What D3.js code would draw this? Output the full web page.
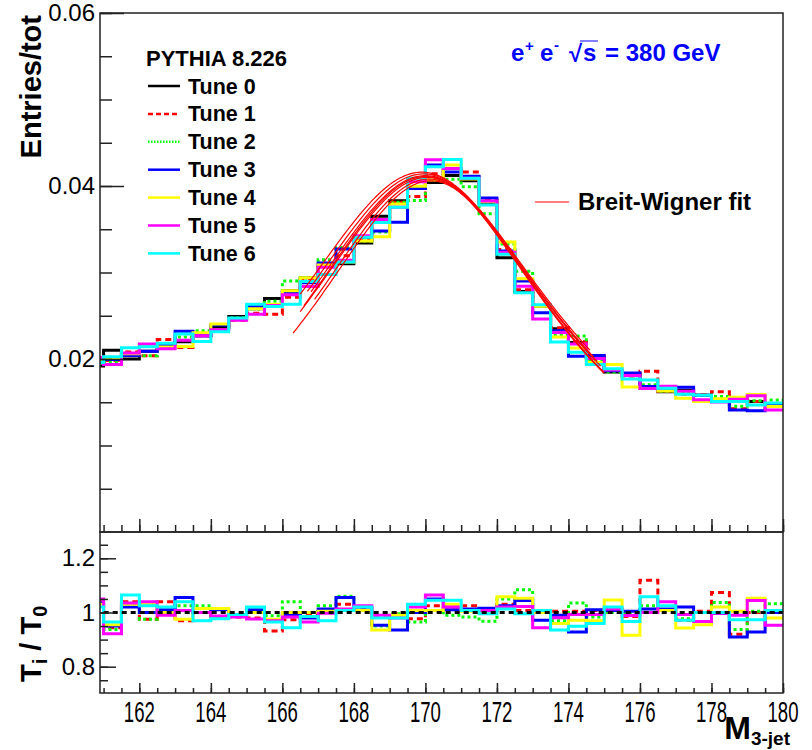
<!DOCTYPE html>
<html>
<head>
<meta charset="utf-8">
<script src="https://cdn.jsdelivr.net/npm/d3@7"></script>
<style>
body { margin: 0; background: #fff; }
svg { display: block; font-family: "Liberation Sans", Arial, sans-serif; }
</style>
</head>
<body>
<svg id="chart" width="812" height="750"></svg>
<script>
// bin edges of the M3-jet histograms (0.5 GeV bins)
let binEdges = [160.5, 161, 161.5, 162, 162.5, 163, 163.5, 164, 164.5, 165, 165.5,
    166, 166.5, 167, 167.5, 168, 168.5, 169, 169.5, 170, 170.5, 171, 171.5, 172,
    172.5, 173, 173.5, 174, 174.5, 175, 175.5, 176, 176.5, 177, 177.5, 178, 178.5,
    179, 179.5, 180];

let tuneNames = ["Tune 0", "Tune 1", "Tune 2", "Tune 3", "Tune 4", "Tune 5", "Tune 6"];

// Tune 0 entries/tot per bin
let tune0 = [0.0192, 0.0210, 0.0200, 0.0209, 0.0214, 0.0220, 0.0227, 0.0237, 0.0249,
    0.0258, 0.0270, 0.0279, 0.0294, 0.0307, 0.0310, 0.0334, 0.0365, 0.0383, 0.0397,
    0.0404, 0.0412, 0.0406, 0.0380, 0.0317, 0.0278, 0.0261, 0.0235, 0.0219, 0.0202,
    0.0185, 0.0183, 0.0166, 0.0162, 0.0164, 0.0158, 0.0151, 0.0155, 0.0151, 0.0148];

// ratios Ti / T0 per bin
let ratio1 = [1.045, 0.944, 1.04, 0.975, 1.04, 0.97, 1.0, 0.985, 0.983, 0.98, 0.932,
    0.973, 0.99, 1.007, 1.03, 1.013, 0.988, 0.995, 0.977, 1.025, 1.02, 1.025, 1.01,
    1.03, 1.007, 1.0, 1.005, 1.005, 1.007, 1.013, 0.985, 1.119, 1.007, 0.971, 1.005,
    1.074, 0.92, 1.0, 1.0];
let ratio2 = [1.03, 0.937, 1.025, 0.975, 1.0, 1.025, 1.025, 0.98, 0.993, 1.0, 0.988,
    1.04, 1.0, 1.025, 1.06, 1.007, 0.95, 0.995, 0.965, 1.007, 0.99, 0.983, 0.968,
    1.05, 1.084, 1.0, 0.97, 1.035, 0.983, 1.0, 1.0, 1.025, 1.007, 0.977, 1.0, 1.037,
    0.937, 1.005, 1.032];
let ratio3 = [1.035, 0.95, 1.02, 1.0, 1.01, 1.055, 1.0, 1.01, 0.99, 1.01, 0.97, 0.99,
    0.98, 1.013, 1.055, 1.02, 0.953, 0.935, 1.0, 1.05, 1.01, 1.013, 1.016, 1.025,
    1.044, 0.971, 0.99, 0.928, 1.01, 1.007, 1.005, 1.013, 1.013, 1.02, 1.0, 0.997,
    0.91, 0.928, 1.0];
let ratio4 = [1.03, 0.955, 1.03, 1.03, 1.0, 0.975, 1.015, 1.015, 0.987, 1.0, 0.975,
    1.0, 1.0, 1.005, 1.007, 1.007, 0.935, 0.99, 1.007, 1.007, 1.03, 1.005, 1.005,
    1.058, 1.053, 1.0, 0.959, 0.971, 0.97, 1.046, 0.916, 1.0, 1.007, 0.943, 0.955,
    1.02, 1.005, 1.053, 0.98];
let ratio5 = [1.05, 0.922, 1.035, 1.04, 0.99, 1.007, 1.0, 0.987, 0.983, 0.976, 0.97,
    0.983, 0.965, 0.997, 1.013, 1.025, 0.99, 0.98, 1.02, 1.065, 1.02, 1.007, 1.007,
    1.02, 1.022, 0.944, 0.981, 0.993, 0.993, 1.013, 0.989, 1.0, 1.04, 0.993, 0.967,
    0.997, 0.99, 1.044, 0.953];
let ratio6 = [1.02, 0.965, 1.065, 1.025, 1.02, 1.04, 0.97, 0.977, 0.993, 1.02, 0.965,
    0.944, 0.985, 0.97, 1.007, 1.02, 0.98, 0.98, 1.03, 1.045, 1.045, 1.007, 0.995,
    1.013, 0.995, 1.007, 0.935, 0.949, 0.959, 1.02, 0.967, 1.058, 1.025, 0.971, 1.0,
    1.0, 0.973, 0.973, 1.007];
let ratios = [ratio1, ratio2, ratio3, ratio4, ratio5, ratio6];

// Breit-Wigner fit parameters, one fit per tune
let fitMean = [170.05, 169.95, 170.15, 170.0, 169.9, 170.1, 170.0];
let fitGamma = [9.1, 9.3, 8.8, 9.2, 9.5, 8.9, 9.0];
let fitPeak = [0.0410, 0.0414, 0.0406, 0.0412, 0.0416, 0.0408, 0.0411];
let fitLow = [166.5, 166.7, 166.3, 166.8, 166.5, 166.9, 166.6];
let fitHigh = [174.9, 174.7, 175.0, 174.8, 174.6, 175.0, 174.8];

let yTicks = [0.02, 0.04, 0.06];
let ratioTicks = [0.8, 1, 1.2];
let xTicks = [162, 164, 166, 168, 170, 172, 174, 176, 178, 180];

// styles
let colors = ["#000000", "#ff0000", "#00ff00", "#0000ff", "#ffff00", "#ff00ff", "#00ffff"];
let dashes = [null, "6,4", "3,3", null, null, null, null];
let legendDashes = [null, "5,3", "1.5,1.5", null, null, null, null];

let padLeft = 100, padRight = 783, padTop = 13, padMid = 532, padBottom = 693;
let fontLabel = 24;

let svg = d3.select("#chart");

let x = d3.scaleLinear().domain([160.9, 180]).range([padLeft, padRight]);
let y = d3.scaleLinear().domain([0, 0.06]).range([padMid, padTop]);
let yr = d3.scaleLinear().domain([0.8, 1.2]).range([666.7, 558.3]);

let defs = svg.append("defs");
defs.append("clipPath").attr("id", "clipTop").append("rect")
    .attr("x", padLeft).attr("y", padTop).attr("width", padRight - padLeft).attr("height", padMid - padTop);
defs.append("clipPath").attr("id", "clipBot").append("rect")
    .attr("x", padLeft).attr("y", padMid).attr("width", padRight - padLeft).attr("height", padBottom - padMid);

function stepPoints(vals) {
    let pts = vals.map(function(v, i) { return [binEdges[i], v]; });
    pts.push([binEdges[vals.length], vals[vals.length - 1]]);
    return pts;
}

// histograms, upper pad
let tuneVals = [tune0].concat(ratios.map(function(r) {
    return tune0.map(function(v, i) { return v * r[i]; });
}));

let gTop = svg.append("g").attr("clip-path", "url(#clipTop)");
tuneVals.forEach(function(vals, t) {
    gTop.append("path")
        .datum(stepPoints(vals))
        .attr("fill", "none")
        .attr("stroke", colors[t])
        .attr("stroke-width", 3)
        .attr("stroke-dasharray", dashes[t])
        .attr("d", d3.line()
            .x(function(d) { return x(d[0]); })
            .y(function(d) { return y(d[1]); })
            .curve(d3.curveStepAfter));
});

// Breit-Wigner fits
fitMean.forEach(function(m, i) {
    let g2 = fitGamma[i] * fitGamma[i] / 4;
    let pts = d3.range(fitLow[i], fitHigh[i] + 0.001, 0.05).map(function(v) {
        return [v, fitPeak[i] * g2 / ((v - m) * (v - m) + g2)];
    });
    gTop.append("path")
        .datum(pts)
        .attr("fill", "none")
        .attr("stroke", "#ff0000")
        .attr("stroke-width", 1.2)
        .attr("d", d3.line()
            .x(function(d) { return x(d[0]); })
            .y(function(d) { return y(d[1]); }));
});

// ratio pad
let gBot = svg.append("g").attr("clip-path", "url(#clipBot)");
ratios.forEach(function(r, i) {
    gBot.append("path")
        .datum(stepPoints(r))
        .attr("fill", "none")
        .attr("stroke", colors[i + 1])
        .attr("stroke-width", 3)
        .attr("stroke-dasharray", dashes[i + 1])
        .attr("d", d3.line()
            .x(function(d) { return x(d[0]); })
            .y(function(d) { return yr(d[1]); })
            .curve(d3.curveStepAfter));
});
gBot.append("path")
    .datum(stepPoints(tune0.map(function(v) { return v / v; })))
    .attr("fill", "none")
    .attr("stroke", "#000")
    .attr("stroke-width", 3)
    .attr("stroke-dasharray", "5,4")
    .attr("d", d3.line()
        .x(function(d) { return x(d[0]); })
        .y(function(d) { return yr(d[1]); })
        .curve(d3.curveStepAfter));

// frames
svg.append("rect").attr("x", padLeft).attr("y", padTop).attr("width", padRight - padLeft)
    .attr("height", padMid - padTop).attr("fill", "none").attr("stroke", "#222").attr("stroke-width", 1.5);
svg.append("rect").attr("x", padLeft).attr("y", padMid).attr("width", padRight - padLeft)
    .attr("height", padBottom - padMid).attr("fill", "none").attr("stroke", "#222").attr("stroke-width", 1.5);

// axes
function styleAxis(g) {
    g.select(".domain").remove();
    g.selectAll("line").attr("stroke", "#222").attr("stroke-width", 1.5);
    g.selectAll("text").style("font-family", "Liberation Sans, Arial, sans-serif")
        .style("font-size", fontLabel + "px").attr("fill", "#000");
}

svg.append("g").attr("transform", "translate(" + padLeft + ",0)")
    .call(d3.axisLeft(y).tickValues(d3.range(0.005, 0.0601, 0.005)).tickSize(-12).tickFormat(""))
    .call(styleAxis);
svg.append("g").attr("transform", "translate(" + padLeft + ",0)")
    .call(d3.axisLeft(y).tickValues(yTicks).tickSize(-24).tickPadding(5).tickFormat(d3.format(".2f")))
    .call(styleAxis);

svg.append("g").attr("transform", "translate(" + padLeft + ",0)")
    .call(d3.axisLeft(yr).tickValues(d3.range(0.75, 1.251, 0.05)).tickSize(-8).tickFormat(""))
    .call(styleAxis);
svg.append("g").attr("transform", "translate(" + padLeft + ",0)")
    .call(d3.axisLeft(yr).tickValues(ratioTicks).tickSize(-16).tickPadding(5).tickFormat(d3.format("")))
    .call(styleAxis);

svg.append("g").attr("transform", "translate(0," + padMid + ")")
    .call(d3.axisBottom(x).tickValues(d3.range(161, 180.01, 0.5)).tickSize(-7).tickFormat(""))
    .call(styleAxis);
svg.append("g").attr("transform", "translate(0," + padMid + ")")
    .call(d3.axisBottom(x).tickValues(xTicks).tickSize(-13).tickFormat(""))
    .call(styleAxis);
svg.append("g").attr("transform", "translate(0," + padBottom + ")")
    .call(d3.axisBottom(x).tickValues(d3.range(161, 180.01, 0.5)).tickSize(-5).tickFormat(""))
    .call(styleAxis);
svg.append("g").attr("transform", "translate(0," + padBottom + ")")
    .call(d3.axisBottom(x).tickValues(xTicks).tickSize(-10).tickFormat(""))
    .call(styleAxis);

// x tick labels (narrow, tall as in the original)
svg.append("g").selectAll("text")
    .data(xTicks)
    .join("text")
    .attr("transform", function(d) { return "translate(" + x(d) + ",722) scale(0.62,1)"; })
    .attr("text-anchor", "middle")
    .style("font-size", "30px")
    .text(function(d) { return d; });

// axis titles
let xt = svg.append("text").attr("x", 790).attr("y", 739).attr("text-anchor", "end")
    .style("font-weight", "bold");
xt.append("tspan").style("font-size", "32px").text("M");
xt.append("tspan").style("font-size", "19px").attr("dy", 6).text("3-jet");

svg.append("text")
    .attr("transform", "translate(41,15) rotate(-90)")
    .attr("text-anchor", "end")
    .style("font-weight", "bold")
    .style("font-size", "29px")
    .text("Entries/tot");

let rt = svg.append("text")
    .attr("transform", "translate(41,682) rotate(-90)")
    .style("font-weight", "bold")
    .style("font-size", "29px");
rt.append("tspan").text("T");
rt.append("tspan").attr("dy", 6).style("font-size", "20px").text("i");
rt.append("tspan").attr("dy", -6).text(" / T");
rt.append("tspan").attr("dy", 6).style("font-size", "20px").text("0");

// legend
svg.append("text").attr("x", 146).attr("y", 66)
    .style("font-weight", "bold").style("font-size", "22px").text("PYTHIA 8.226");
tuneNames.forEach(function(name, i) {
    let ly = 86 + 27.9 * i;
    svg.append("line").attr("x1", 148).attr("x2", 180).attr("y1", ly).attr("y2", ly)
        .attr("stroke", colors[i]).attr("stroke-width", 2.5)
        .attr("stroke-dasharray", legendDashes[i]);
    svg.append("text").attr("x", 188).attr("y", ly + 7.5)
        .style("font-weight", "bold").style("font-size", "21.5px").text(name);
});

svg.append("line").attr("x1", 535).attr("x2", 569).attr("y1", 202).attr("y2", 202)
    .attr("stroke", "#ff0000").attr("stroke-width", 1.2);
svg.append("text").attr("x", 578).attr("y", 210)
    .style("font-weight", "bold").style("font-size", "24px").text("Breit-Wigner fit");

// beam label
let blue = "#0000ff";
let el = svg.append("g").attr("fill", blue).style("font-weight", "bold");
el.append("text").attr("x", 511).attr("y", 61).style("font-size", "24px").text("e");
el.append("text").attr("x", 525).attr("y", 51).style("font-size", "15px").text("+");
el.append("text").attr("x", 540).attr("y", 61).style("font-size", "24px").text("e");
el.append("text").attr("x", 554).attr("y", 50).style("font-size", "15px").text("-");
el.append("text").attr("x", 569).attr("y", 62).style("font-size", "24px").text("\u221a");
el.append("text").attr("x", 583).attr("y", 61).style("font-size", "24px").text("s");
el.append("text").attr("x", 605).attr("y", 61).style("font-size", "24px").text("= 380 GeV");
svg.append("line").attr("x1", 580).attr("x2", 598).attr("y1", 41).attr("y2", 41)
    .attr("stroke", blue).attr("stroke-width", 1);
</script>
</body>
</html>
